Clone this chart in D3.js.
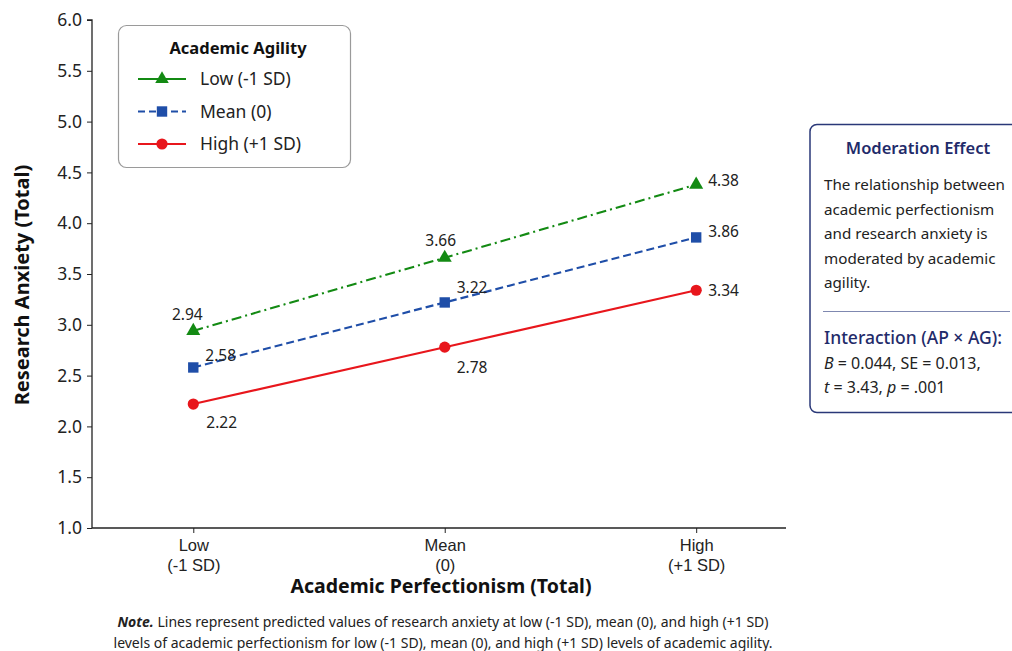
<!DOCTYPE html>
<html><head><meta charset="utf-8">
<script src="https://cdn.jsdelivr.net/npm/d3@7"></script>
<style>
body{margin:0;background:#fff;}
svg{font-family:"Noto Sans","Open Sans",sans-serif;}
</style></head>
<body><svg id="c" width="1012" height="651"></svg>
<script>
// ---- data ----
const categories = ["Low|(-1 SD)", "Mean|(0)", "High|(+1 SD)"];
const seriesNames = ["Low (-1 SD)", "Mean (0)", "High (+1 SD)"];
const lowAgility  = [2.94, 3.66, 4.38];
const meanAgility = [2.58, 3.22, 3.86];
const highAgility = [2.22, 2.78, 3.34];
const yTicks = [1.0, 1.5, 2.0, 2.5, 3.0, 3.5, 4.0, 4.5, 5.0, 5.5, 6.0];
const legendTitle = "Academic Agility";
const xTitle = "Academic Perfectionism (Total)";
const yTitle = "Research Anxiety (Total)";
const boxTitle = "Moderation Effect";
const boxBody = ["The relationship between", "academic perfectionism", "and research anxiety is", "moderated by academic", "agility."];
const boxSub = "Interaction (AP \u00d7 AG):";

// ---- styles ----
const styles = [
  {color:"#138a13", dash:"10,4,2,4", marker:"triangle", offs:[[-6,-16,"middle"],[-4,-17,"middle"],[12,-4,"start"]]},
  {color:"#1f4ea8", dash:"8,4", marker:"square", offs:[[12,-12,"start"],[12,-15,"start"],[12,-6,"start"]]},
  {color:"#e8161c", dash:null, marker:"circle", offs:[[13,19,"start"],[12,20,"start"],[12,0,"start"]]}
];
const seriesVals = [lowAgility, meanAgility, highAgility];

const svg = d3.select("#c");
const m = {l:92, t:20, r:226, b:124};
const W = 1012 - m.l - m.r, H = 651 - m.t - m.b;
const g = svg.append("g").attr("transform", `translate(${m.l},${m.t})`);

const x = d3.scalePoint().domain(categories).range([0, W]).padding(0.38).align(0.53);
const y = d3.scaleLinear().domain([1, 6]).range([H + 1, 0]);

// axes
const yAx = g.append("g").call(d3.axisLeft(y).tickValues(yTicks).tickFormat(d3.format(".1f")).tickSize(5).tickPadding(5));
yAx.select(".domain").attr("stroke","#222").attr("stroke-width",1.3).attr("d", `M-5,0H0V${H+1}`);
yAx.selectAll(".tick line").attr("stroke","#222");
yAx.selectAll(".tick text").attr("font-size",17.5).attr("fill","#222").attr("font-family","Noto Sans");

const xAx = g.append("g").attr("transform",`translate(0,${H+1})`).call(d3.axisBottom(x).tickSize(5).tickPadding(6).tickFormat(""));
xAx.select(".domain").attr("stroke","#222").attr("stroke-width",1.3).attr("d", `M0,0H${W}`);
xAx.selectAll(".tick line").attr("stroke","#222");
xAx.selectAll(".tick").each(function(d){
  const parts = d.split("|");
  const t = d3.select(this).append("text").attr("fill","#222").attr("font-size",16.5).attr("text-anchor","middle");
  parts.forEach((p,i)=>t.append("tspan").attr("x",0).attr("y", 23 + i*20).text(p));
});

// axis titles
svg.append("text").attr("x", 441).attr("y", 593).attr("text-anchor","middle")
  .attr("font-size",19.5).attr("font-weight","bold").attr("fill","#111").text(xTitle);
svg.append("text").attr("transform","translate(29,285) rotate(-90)").attr("text-anchor","middle")
  .attr("font-size",20).attr("font-weight","bold").attr("fill","#111").text(yTitle);

// markers
function drawMarker(sel, type, color, size){
  if(type==="triangle") sel.append("path").attr("d", d3.symbol(d3.symbolTriangle, size)()).attr("fill",color);
  else if(type==="square") sel.append("rect").attr("x",-5.2).attr("y",-5.2).attr("width",10.4).attr("height",10.4).attr("fill",color);
  else sel.append("circle").attr("r",5.6).attr("fill",color);
}

const line = d3.line().x((d,i)=>x(categories[i])).y(d=>y(d));
seriesVals.forEach((vals, si)=>{
  const st = styles[si];
  g.append("path").datum(vals).attr("d", line).attr("fill","none").attr("stroke", st.color)
   .attr("stroke-width",2.1).attr("stroke-dasharray", st.dash);
  vals.forEach((v,i)=>{
    const mg = g.append("g").attr("transform",`translate(${x(categories[i])},${y(v)})`);
    drawMarker(mg, st.marker, st.color, 85);
    const o = st.offs[i];
    g.append("text").attr("x", x(categories[i]) + o[0]).attr("y", y(v) + o[1]).attr("dy","0.35em")
      .attr("text-anchor", o[2]).attr("font-size",15.5).attr("fill","#222").text(d3.format(".2f")(v));
  });
});

// legend
const lg = svg.append("g");
lg.append("rect").attr("x",118.5).attr("y",25.5).attr("width",232).attr("height",142).attr("rx",8)
  .attr("fill","#fff").attr("stroke","#9a9a9a").attr("stroke-width",1.2);
lg.append("text").attr("x",238).attr("y",48).attr("dy","0.35em").attr("text-anchor","middle")
  .attr("font-size",16.5).attr("font-weight","bold").attr("fill","#111").text(legendTitle);
seriesNames.forEach((nm, si)=>{
  const st = styles[si];
  const yy = 79 + si*32.5;
  lg.append("line").attr("x1",138).attr("x2",186).attr("y1",yy).attr("y2",yy).attr("stroke",st.color)
    .attr("stroke-width",2.1).attr("stroke-dasharray", si===1 ? "7,4" : null);
  const mg = lg.append("g").attr("transform",`translate(162,${yy})`);
  drawMarker(mg, st.marker, st.color, 80);
  lg.append("text").attr("x",200).attr("y",yy).attr("dy","0.35em").attr("font-size",17.5).attr("fill","#222").text(nm);
});

// annotation box
const ab = svg.append("g");
ab.append("rect").attr("x",810).attr("y",124.5).attr("width",215).attr("height",288).attr("rx",7)
  .attr("fill","#fff").attr("stroke","#2a3878").attr("stroke-width",1.5);
ab.append("text").attr("x",918).attr("y",148).attr("dy","0.35em").attr("text-anchor","middle")
  .attr("font-size",16.5).attr("font-weight",600).attr("fill","#1f2b6a").text(boxTitle);
boxBody.forEach((t,i)=>{
  ab.append("text").attr("x",824).attr("y",185 + i*24.4).attr("dy","0.35em")
    .attr("font-size",15.2).attr("fill","#222").text(t);
});
ab.append("line").attr("x1",823).attr("x2",1010).attr("y1",311.5).attr("y2",311.5).attr("stroke","#7f88b0").attr("stroke-width",1.2);
ab.append("text").attr("x",824).attr("y",338).attr("dy","0.35em").attr("font-size",17.5).attr("font-weight",500).attr("fill","#1f2b6a").text(boxSub);
const st1 = ab.append("text").attr("x",824).attr("y",363).attr("dy","0.35em").attr("font-size",16).attr("fill","#222");
st1.append("tspan").attr("font-style","italic").text("B");
st1.append("tspan").text(" = 0.044,  SE = 0.013,");
const st2 = ab.append("text").attr("x",824).attr("y",387).attr("dy","0.35em").attr("font-size",16).attr("fill","#222");
st2.append("tspan").attr("font-style","italic").text("t");
st2.append("tspan").text(" = 3.43,  ");
st2.append("tspan").attr("font-style","italic").text("p");
st2.append("tspan").text(" = .001");

// note
const n1 = svg.append("text").attr("x",443).attr("y",622).attr("dy","0.35em").attr("text-anchor","middle")
  .attr("font-size",14).attr("fill","#222");
n1.append("tspan").attr("font-weight","bold").attr("font-style","italic").text("Note.");
n1.append("tspan").text("  Lines represent predicted values of research anxiety at low (-1 SD), mean (0), and high (+1 SD)");
svg.append("text").attr("x",443).attr("y",643).attr("dy","0.35em").attr("text-anchor","middle")
  .attr("font-size",14).attr("fill","#222")
  .text("levels of academic perfectionism for low (-1 SD), mean (0), and high (+1 SD) levels of academic agility.");
</script></body></html>
